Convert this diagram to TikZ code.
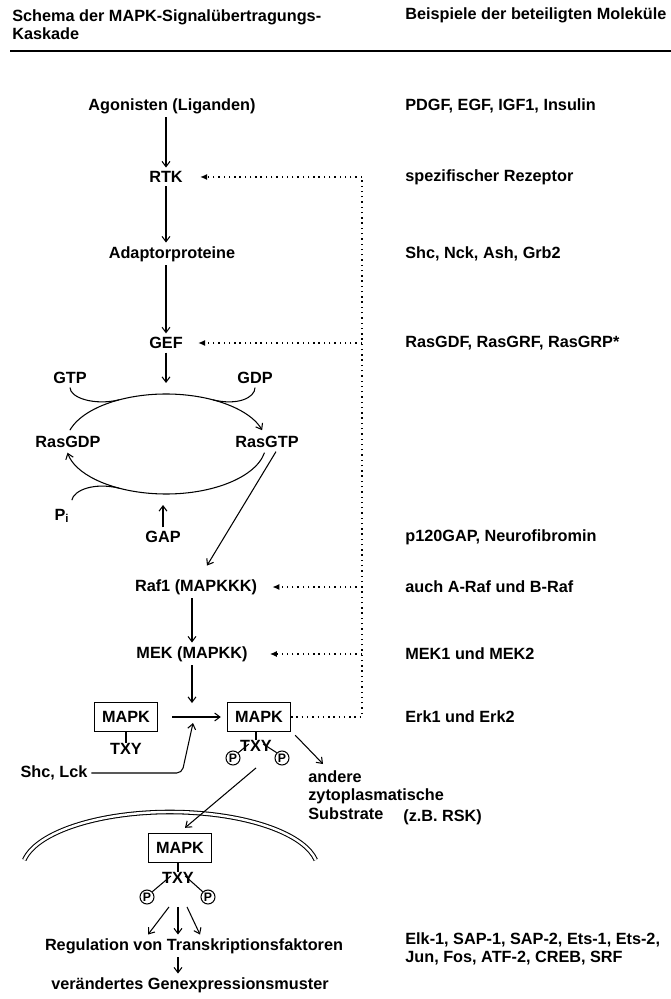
\documentclass[tikz,border=0pt]{standalone}
\usepackage{fontspec}
\setmainfont{Liberation Sans}
\usetikzlibrary{arrows.meta}

\begin{document}
\begin{tikzpicture}[x=0.02cm,y=0.02cm,
  every node/.style={font=\bfseries\fontsize{9.25}{10.6}\selectfont, inner sep=2pt},
  arr/.style={line width=0.6pt, -{Straight Barb[length=3pt,width=4.5pt]}},
  fbline/.style={line width=0.8pt, dash pattern=on 0.8pt off 2.2pt},
  fbarr/.style={fbline, -{Latex[length=4pt,width=3.5pt]}},
  kinase/.style={draw, line width=0.8pt, minimum width=1.26cm, minimum height=0.58cm, inner sep=0pt},
  txy/.style={inner sep=0pt},
  phos/.style={draw, circle, line width=0.6pt, minimum size=0.28cm, inner sep=0pt, font=\bfseries\fontsize{7}{7}\selectfont},
  beisp/.style={anchor=west, inner sep=0pt, align=left},
  membrane/.style={draw, line width=0.6pt, double, double distance=1.4pt}]

\useasboundingbox (0,0) rectangle (671,-999);

% Kopfzeile
\node[anchor=north west, inner sep=0pt, align=left] (head) at (12,-9) {Schema der MAPK-Signalübertragungs-\\Kaskade};
\node[beisp] (headr) at (405,-15) {Beispiele der beteiligten Moleküle};
\draw[line width=1.1pt] (10,-51) -- (671,-51);

% Kaskade
\node (agon) at (172,-106) {Agonisten (Liganden)};
\node (rtk) at (166,-177) {RTK};
\node (adapt) at (172,-254) {Adaptorproteine};
\node (gef) at (166,-343) {GEF};
\node (gtp) at (70,-378) {GTP};
\node (gdp) at (255,-378) {GDP};
\node (rasgdp) at (68,-442) {RasGDP};
\node (rasgtp) at (267,-442) {RasGTP};
\node (pi) at (62,-516) {P\textsubscript{i}};
\node (gap) at (163,-537) {GAP};
\node (raf) at (196,-587) {Raf1 (MAPKKK)};
\node (mek) at (192,-654) {MEK (MAPKK)};

\draw[arr] (agon.south -| rtk.north) -- (rtk.north);
\draw[arr] (rtk.south) -- (rtk.south |- adapt.north);
\draw[arr] (adapt.south -| gef.north) -- (gef.north);
\coordinate (gefin) at (166,-383);
\draw[arr] (gef.south) -- (gefin);

% Ras-Zyklus
\coordinate (ras) at (166,-444);
\draw[arr] ([shift={(164:100 and 50)}]ras) arc[start angle=164, end angle=16, x radius=100, y radius=50];
\draw[arr] ([shift={(-10:100 and 50)}]ras) arc[start angle=-10, end angle=-170, x radius=100, y radius=50];
\draw[line width=0.6pt] (gtp.south) .. controls +(0,-10) and +(-25,-6) .. ([shift={(118:100 and 50)}]ras);
\draw[line width=0.6pt] ([shift={(62:100 and 50)}]ras) .. controls +(25,-6) and +(0,-10) .. (gdp.south);
\draw[line width=0.6pt] ([shift={(-1.5,5)}]pi.north east) .. controls +(2,10) and +(-25,6) .. ([shift={(-118:100 and 50)}]ras);
\coordinate (gapout) at (163,-505);
\draw[arr] (gap.north) -- (gapout);

\draw[arr] ([xshift=0.18cm]rasgtp.south) -- ([xshift=0.22cm,yshift=0.2cm]raf.north);
\draw[arr] (raf.south -| mek.north) -- (mek.north);

% MAPK
\node[kinase] (mapk1) at (126,-717) {MAPK};
\node[txy] (txy1) at (126,-749) {TXY};
\node[kinase] (mapk2) at (259,-717) {MAPK};
\node[txy] (txy2) at (256,-746) {TXY};
\node[phos] (p1) at (233,-758) {P};
\node[phos] (p2) at (282,-758) {P};
\draw[line width=0.6pt] (mapk1.south) -- (txy1.north);
\draw[line width=0.6pt] (mapk2.south -| txy2.north) -- (txy2.north);
\draw[line width=0.6pt] (p1.north east) -- ([shift={(9,2)}]txy2.west);
\draw[line width=0.6pt] (p2.north west) -- ([shift={(-9,2)}]txy2.east);

\coordinate (junc) at (192,-718);
\draw[arr] (mek.south) -- ([shift={(0,15)}]junc);
\draw[arr, shorten <=0.28cm, shorten >=0.12cm] (mapk1.east) -- (mapk2.west);
\node (shc) at (54,-773) {Shc, Lck};
\coordinate (shcknick) at (182,-773);
\draw[arr, rounded corners=3pt] (shc.east) -- (shcknick) -- ([shift={(1,-5)}]junc);

% Rueckkopplung
\coordinate (fb) at (362,-717);
\draw[fbline] (mapk2.east) -- (fb) -- (fb |- rtk);
\draw[fbarr, shorten >=0.27cm] (fb |- rtk) -- (rtk.east);
\draw[fbarr, shorten >=0.23cm] (fb |- gef) -- (gef.east);
\draw[fbarr, shorten >=0.23cm] (fb |- raf) -- (raf.east);
\draw[fbarr, shorten >=0.37cm] (fb |- mek) -- (mek.east);

\node[anchor=north west, inner sep=0pt, align=left] (andere) at (308,-770) {andere\\zytoplasmatische\\Substrate};
\node[anchor=west, inner sep=0pt] (rsk) at (403,-817) {(z.B. RSK)};
\draw[arr] ([shift={(4,-3)}]mapk2.south east) -- ([shift={(15,6)}]andere.north west);

% Zellkern
\coordinate (kern) at (170,-870);
\draw[membrane] ([shift={(170:148 and 58)}]kern) arc[start angle=170, end angle=10, x radius=148, y radius=58];

\node[kinase] (mapk3) at (180,-848) {MAPK};
\node[txy] (txy3) at (178,-878) {TXY};
\node[phos] (p3) at (147,-897) {P};
\node[phos] (p4) at (208,-897) {P};
\draw[line width=0.6pt] (mapk3.south -| txy3.north) -- (txy3.north);
\draw[line width=0.6pt] (p3.north east) -- ([shift={(9,2)}]txy3.west);
\draw[line width=0.6pt] (p4.north west) -- ([shift={(-9,2)}]txy3.east);
\draw[arr] ([yshift=-0.32cm]txy2.south) -- ([shift={(5,5)}]mapk3.north);

\node (reg) at (194,-946) {Regulation von Transkriptionsfaktoren};
\node (gen) at (190,-985) {verändertes Genexpressionsmuster};
\foreach \a/\b in {-9/-30, 0/0, 9/22}
  \draw[arr] ([shift={(\a,-23)}]txy3.south) -- ([shift={(\b,0)}]txy3.south |- reg.north);
\draw[arr] (reg.south -| txy3.south) -- (gen.north -| txy3.south);

% Beispiele
\node[beisp] (b1) at (405,-106) {PDGF, EGF, IGF1, Insulin};
\node[beisp] (b2) at (405,-177) {spezifischer Rezeptor};
\node[beisp] (b3) at (405,-254) {Shc, Nck, Ash, Grb2};
\node[beisp] (b4) at (405,-343) {RasGDF, RasGRF, RasGRP*};
\node[beisp] (b5) at (405,-537) {p120GAP, Neurofibromin};
\node[beisp] (b6) at (405,-587) {auch A-Raf und B-Raf};
\node[beisp] (b7) at (405,-654) {MEK1 und MEK2};
\node[beisp] (b8) at (405,-717) {Erk1 und Erk2};
\node[beisp] (b9) at (405,-949) {Elk-1, SAP-1, SAP-2, Ets-1, Ets-2,\\Jun, Fos, ATF-2, CREB, SRF};

\end{tikzpicture}
\end{document}
